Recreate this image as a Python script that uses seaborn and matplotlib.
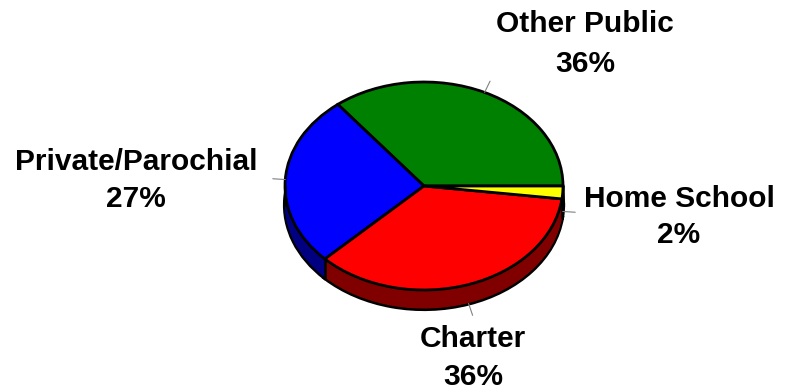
import numpy as np
import matplotlib
matplotlib.use("Agg")
import matplotlib.pyplot as plt
import seaborn as sns

# School type shares (percent)
categories = ["Other Public", "Private/Parochial", "Charter", "Home School"]
shares = [36, 27, 36, 2]
top_colors = ["#008000", "#0000FF", "#FF0000", "#FFFF00"]
side_colors = ["#004000", "#000080", "#800000", "#808000"]

sns.set_theme(style="white")
plt.rcParams["font.family"] = ["Liberation Sans", "DejaVu Sans"]

W, H = 786, 389
fig = plt.figure(figsize=(W / 100, H / 100), dpi=100)
ax = fig.add_axes([0, 0, 1, 1])

# pie geometry in pixels: centre, radii, rim depth
cx, cy, rx, ry, depth_px = 424, 186, 139, 104, 19
depth = depth_px / ry

# side wall: stacked copies of the pie pushed downward
offsets = np.linspace(depth, 0, 40)
for i, t in enumerate(offsets):
    if i == 0:
        ax.pie(shares, colors=side_colors, startangle=0, counterclock=True,
               center=(0, -t), radius=1,
               wedgeprops=dict(edgecolor="black", linewidth=3.0))
    else:
        ax.pie(shares, colors=side_colors, startangle=0, counterclock=True,
               center=(0, -t), radius=1,
               wedgeprops=dict(edgecolor="none", linewidth=0))

# top face
wedges, _ = ax.pie(shares, colors=top_colors, startangle=0, counterclock=True,
                   center=(0, 0), radius=1,
                   wedgeprops=dict(edgecolor="black", linewidth=2.0))

# vertical edges of the rim on the front half
edge_angles = {180.0, 360.0}
for w in wedges:
    for a in (w.theta1, w.theta2):
        a_mod = a % 360
        if 180 < a_mod < 360:
            edge_angles.add(a_mod)
for a in edge_angles:
    r = np.deg2rad(a)
    ax.plot([np.cos(r), np.cos(r)], [np.sin(r), np.sin(r) - depth],
            color="black", linewidth=1.8, zorder=5)

# leader lines from slice midpoints
for w in wedges:
    mid = np.deg2rad((w.theta1 + w.theta2) / 2)
    c, s = np.cos(mid), np.sin(mid)
    drop = depth if s < -0.05 else 0.0
    ax.plot([c * 1.0, c * 1.09], [s * 1.0 - drop, s * 1.12 - drop],
            color="#808080", linewidth=0.8, zorder=6)

# labels (pixel positions of line centres / baselines)
label_pos = {
    "Other Public": (585, 32, 72),
    "Private/Parochial": (136, 170, 207),
    "Charter": (473, 347, 385),
    "Home School": (679, 207, 243),
}
for name, val in zip(categories, shares):
    px, b1, b2 = label_pos[name]
    x = (px - cx) / rx
    for text, b in ((name, b1), (f"{val}%", b2)):
        ax.text(x, (cy - b) / ry, text, ha="center", va="baseline",
                fontsize=21.5, fontweight="bold", color="black", zorder=7)

ax.set_aspect("auto")
ax.set_xlim(-cx / rx, (W - cx) / rx)
ax.set_ylim(-(H - cy) / ry, cy / ry)
ax.axis("off")

fig.savefig("out.png", dpi=100, facecolor="white")
